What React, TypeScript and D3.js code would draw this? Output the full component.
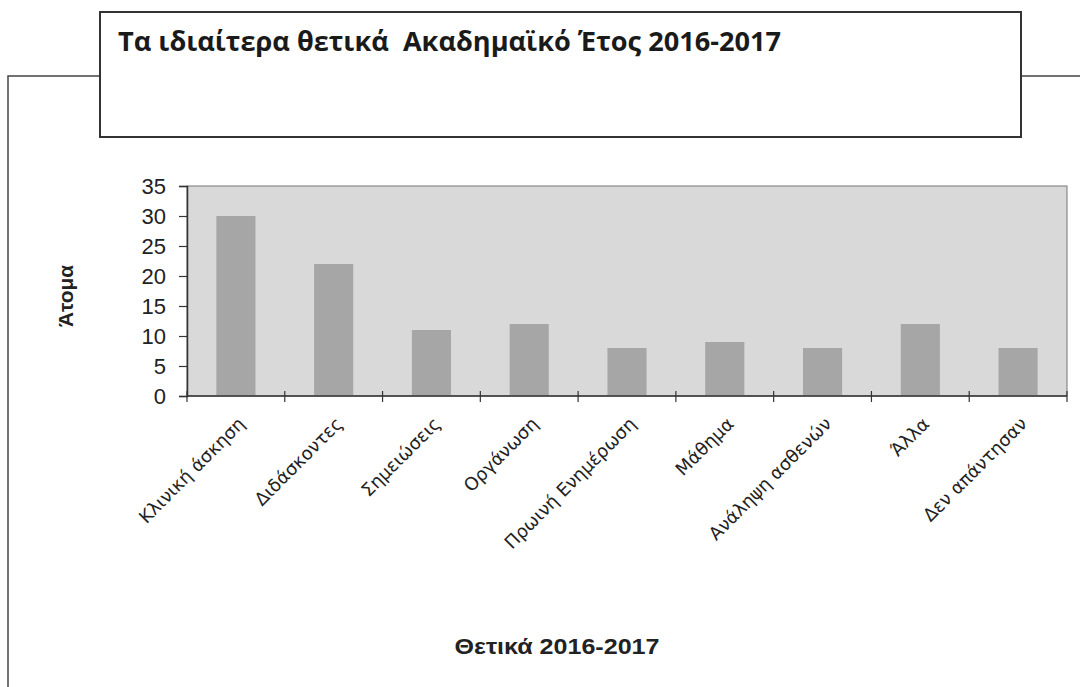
import React, { useEffect, useRef } from "react";
import * as d3 from "d3";

const categories = [
  "Κλινική άσκηση",
  "Διδάσκοντες",
  "Σημειώσεις",
  "Οργάνωση",
  "Πρωινή Ενημέρωση",
  "Μάθημα",
  "Ανάληψη ασθενών",
  "Άλλα",
  "Δεν απάντησαν",
];
const values = [30, 22, 11, 12, 8, 9, 8, 12, 8];
const yTicks = [0, 5, 10, 15, 20, 25, 30, 35];

const title = "Τα ιδιαίτερα θετικά  Ακαδημαϊκό Έτος 2016-2017";
const yTitle = "Άτομα";
const xTitle = "Θετικά 2016-2017";

export default function App() {
  const ref = useRef<SVGSVGElement | null>(null);

  useEffect(() => {
    const W = 1080, H = 687;
    const plot = { left: 187, right: 1067, top: 186, bottom: 396 };
    const svg = d3.select(ref.current);
    svg.selectAll("*").remove();
    svg.attr("viewBox", `0 0 ${W} ${H}`);

    svg.append("rect").attr("width", W).attr("height", H).attr("fill", "#fff");

    // outer frame (partly hidden behind the title box)
    svg.append("path")
      .attr("d", `M8,${H + 2} L8,76 L1080,76`)
      .attr("fill", "none").attr("stroke", "#444").attr("stroke-width", 1.5);

    // title box
    svg.append("rect")
      .attr("x", 100).attr("y", 12).attr("width", 921).attr("height", 125)
      .attr("fill", "#fff").attr("stroke", "#333").attr("stroke-width", 2);
    svg.append("text")
      .attr("x", 118).attr("y", 51)
      .attr("font-family", "'Open Sans', 'Noto Sans', sans-serif")
      .attr("font-weight", "bold").attr("font-size", 26)
      .attr("textLength", 663).attr("lengthAdjust", "spacingAndGlyphs")
      .attr("fill", "#1a1a1a")
      .style("white-space", "pre")
      .text(title);

    const x = d3.scaleBand<string>().domain(categories).range([plot.left, plot.right]).padding(0);
    const y = d3.scaleLinear().domain([0, 35]).range([plot.bottom, plot.top]);

    // plot background
    svg.append("rect")
      .attr("x", plot.left).attr("y", plot.top)
      .attr("width", plot.right - plot.left).attr("height", plot.bottom - plot.top)
      .attr("fill", "#d9d9d9").attr("stroke", "#777").attr("stroke-width", 1);

    // bars
    const bw = x.bandwidth() * 0.4;
    svg.append("g").selectAll("rect")
      .data(values)
      .enter().append("rect")
      .attr("x", (d, i) => (x(categories[i]) as number) + (x.bandwidth() - bw) / 2)
      .attr("y", d => y(d))
      .attr("width", bw)
      .attr("height", d => y(0) - y(d))
      .attr("fill", "#a6a6a6");

    // y axis
    const yAxis = d3.axisLeft(y).tickValues(yTicks).tickSize(8).tickPadding(13);
    const gy = svg.append("g").attr("transform", `translate(${plot.left},0)`).call(yAxis);
    gy.select(".domain").attr("stroke", "#333").attr("stroke-width", 1.5);
    gy.selectAll(".tick line").attr("stroke", "#333").attr("stroke-width", 1.2);
    gy.selectAll(".tick text")
      .attr("font-family", "Arial, 'Liberation Sans', sans-serif")
      .attr("font-size", 22).attr("fill", "#222");

    // x axis baseline and boundary ticks
    svg.append("line")
      .attr("x1", plot.left).attr("x2", plot.right)
      .attr("y1", plot.bottom).attr("y2", plot.bottom)
      .attr("stroke", "#333").attr("stroke-width", 1.5);
    const bounds = categories.map(c => (x(c) as number) + x.bandwidth()).concat([plot.left]);
    svg.append("g").selectAll("line")
      .data(bounds)
      .enter().append("line")
      .attr("x1", d => d).attr("x2", d => d)
      .attr("y1", plot.bottom - 5).attr("y2", plot.bottom + 6)
      .attr("stroke", "#333").attr("stroke-width", 1.2);

    // x labels rotated
    svg.append("g").selectAll("text")
      .data(categories)
      .enter().append("text")
      .attr("transform", d => `translate(${(x(d) as number) + x.bandwidth() / 2 + 10},${plot.bottom + 29}) rotate(-45)`)
      .attr("text-anchor", "end")
      .attr("font-family", "'DejaVu Sans', Verdana, sans-serif")
      .attr("font-size", 18).attr("fill", "#222")
      .text(d => d);

    // axis titles
    svg.append("text")
      .attr("transform", `translate(73,296) rotate(-90)`)
      .attr("text-anchor", "middle")
      .attr("font-family", "Arial, 'Liberation Sans', sans-serif")
      .attr("font-weight", "bold").attr("font-size", 20).attr("fill", "#222")
      .attr("textLength", 62).attr("lengthAdjust", "spacingAndGlyphs")
      .text(yTitle);
    svg.append("text")
      .attr("x", 557).attr("y", 654)
      .attr("text-anchor", "middle")
      .attr("font-family", "Arial, 'Liberation Sans', sans-serif")
      .attr("font-weight", "bold").attr("font-size", 22).attr("fill", "#222")
      .attr("textLength", 205).attr("lengthAdjust", "spacingAndGlyphs")
      .text(xTitle);
  }, []);

  return (
    <svg
      ref={ref}
      width={1080}
      height={687}
      style={{ position: "absolute", left: 0, top: 0, display: "block" }}
    />
  );
}
